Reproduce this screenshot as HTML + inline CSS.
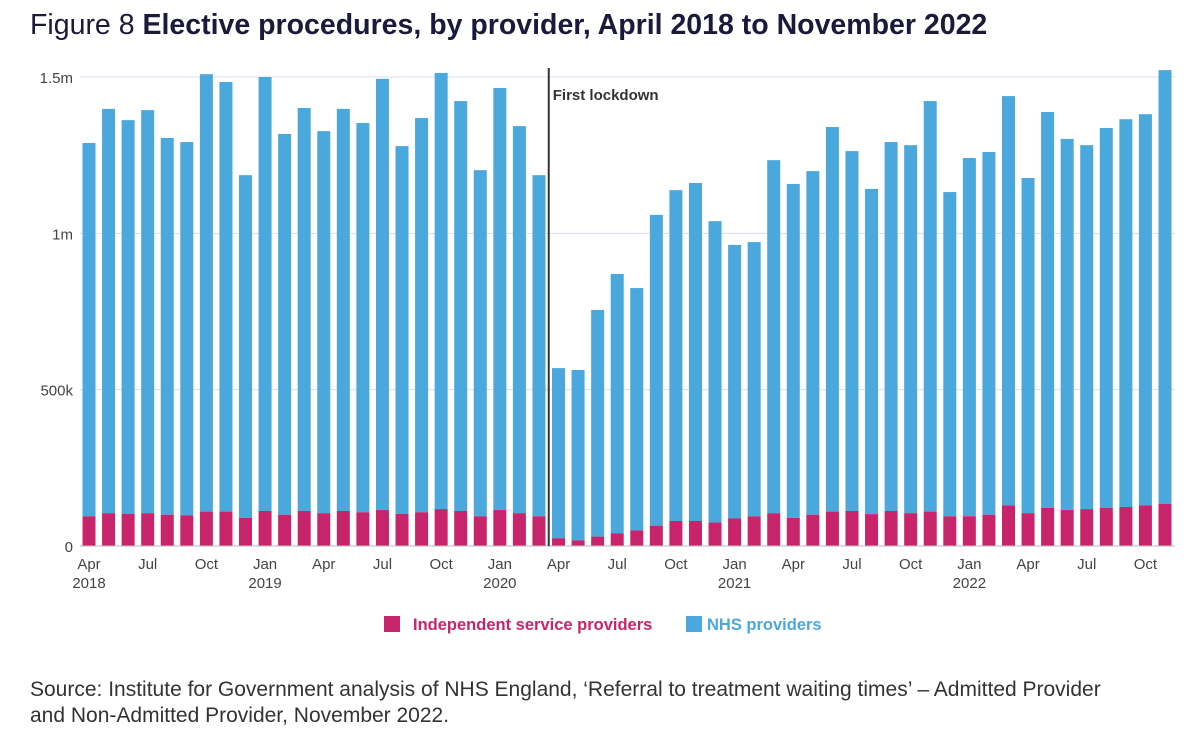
<!DOCTYPE html>
<html><head><meta charset="utf-8">
<style>
body{margin:0;background:#fff;width:1200px;height:752px;overflow:hidden;font-family:"Liberation Sans",sans-serif;}
#title{position:absolute;left:30px;top:9px;font-size:28.5px;color:#1a1a3a;white-space:nowrap;}
#title b{font-weight:bold;}
#source{position:absolute;left:30px;top:677px;font-size:21px;color:#333;line-height:26px;white-space:nowrap;}
</style></head><body>
<div id="title">Figure 8 <b>Elective procedures, by provider, April 2018 to November 2022</b></div>
<svg id="chart" width="1200" height="660" style="position:absolute;left:0;top:0"></svg>
<div id="source">Source: Institute for Government analysis of NHS England, ‘Referral to treatment waiting times’ – Admitted Provider<br>and Non-Admitted Provider, November 2022.</div>
<script>
const months=["Apr","May","Jun","Jul","Aug","Sep","Oct","Nov","Dec","Jan","Feb","Mar"];
const totals=[1.289,1.398,1.362,1.394,1.305,1.292,1.509,1.484,1.186,1.500,1.318,1.401,1.327,1.398,1.353,1.494,1.279,1.369,1.513,1.423,1.202,1.465,1.343,1.186,0.569,0.563,0.755,0.870,0.825,1.059,1.138,1.161,1.039,0.963,0.972,1.234,1.158,1.199,1.340,1.263,1.142,1.292,1.282,1.423,1.132,1.241,1.260,1.439,1.177,1.388,1.302,1.282,1.337,1.365,1.381,1.522];
const independent=[0.095,0.105,0.103,0.105,0.100,0.098,0.110,0.110,0.090,0.112,0.100,0.112,0.105,0.112,0.108,0.115,0.103,0.108,0.118,0.112,0.095,0.115,0.105,0.095,0.025,0.018,0.030,0.040,0.050,0.065,0.080,0.080,0.075,0.088,0.095,0.105,0.090,0.100,0.110,0.112,0.102,0.112,0.105,0.110,0.095,0.095,0.100,0.130,0.105,0.122,0.115,0.118,0.122,0.125,0.130,0.135];
const yTicks=[0,0.5,1,1.5];
const yTickLabels=["0","500k","1m","1.5m"];
const lockdownIndex=24;
const svg=document.getElementById('chart');
const NS="http://www.w3.org/2000/svg";
const y0=546,yTop=77;
const yS=v=>y0-v*(y0-yTop)/1.5;
const xS=i=>89+i*(1165-89)/55;
function el(t,a,p){const e=document.createElementNS(NS,t);for(const k in a)e.setAttribute(k,a[k]);(p||svg).appendChild(e);return e;}
yTicks.forEach((v,i)=>{
  if(v>0){const g=el('line',{x1:80,x2:1175,y1:yS(v),y2:yS(v),stroke:'#dcdcec','stroke-width':1});
  
  }
  const t=el('text',{x:73,y:yS(v)+6,'text-anchor':'end','font-size':15,fill:'#444'});
  t.textContent=yTickLabels[i];
  
  
});
totals.forEach((tot,i)=>{
  const x=xS(i)-6.5;
  const b=el('rect',{x:x,y:yS(tot),width:13,height:yS(independent[i])-yS(tot),fill:'#4aa8dc'});
  
  
  const p=el('rect',{x:x,y:yS(independent[i]),width:13,height:y0-yS(independent[i]),fill:'#c8246c'});
  
  
  const m=(i)%12;
  if(m%3===0){
    const t=el('text',{x:xS(i),y:569,'text-anchor':'middle','font-size':15,fill:'#444'});
    t.textContent=months[m];
    
    
    if(i===0||m===9){
      const yr=el('text',{x:xS(i),y:588,'text-anchor':'middle','font-size':15,fill:'#444'});
      yr.textContent=String(2018+Math.floor((i+3)/12));
      
      
    }
  }
});
const ax=el('line',{x1:80,x2:1175,y1:y0,y2:y0,stroke:'#bbb','stroke-width':1});


const lx=(xS(lockdownIndex-1)+xS(lockdownIndex))/2;
const ll=el('line',{x1:lx,x2:lx,y1:68,y2:y0,stroke:'#333','stroke-width':2});


const lt=el('text',{x:lx+4,y:100,'font-size':15,'font-weight':'bold',fill:'#333'});
lt.textContent='First lockdown';


const l1=el('rect',{x:384,y:616,width:16,height:16,fill:'#c8246c'});


const t1=el('text',{x:413,y:630,'font-size':16.5,'font-weight':'bold',fill:'#c8246c'});
t1.textContent='Independent service providers';


const l2=el('rect',{x:686,y:616,width:16,height:16,fill:'#4aa8dc'});


const t2=el('text',{x:707,y:630,'font-size':16.5,'font-weight':'bold',fill:'#4aa8dc'});
t2.textContent='NHS providers';


</script>
</body></html>
